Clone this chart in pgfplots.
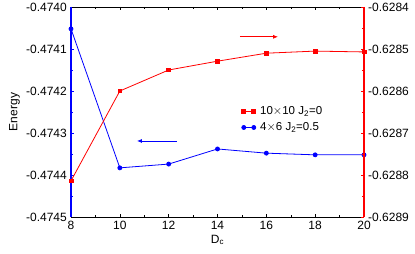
\documentclass[border=0pt]{standalone}
\usepackage{fontspec}
\setmainfont{Liberation Sans}
\usepackage{pgfplots}
\pgfplotsset{compat=1.18}
\usetikzlibrary{calc,arrows.meta}
\begin{document}
\fontsize{12}{14}\selectfont
\begin{tikzpicture}
\pgfplotsset{
  common/.style={
    scale only axis, width=293pt, height=210pt,
    xmin=8, xmax=20,
    tick align=inside,
    major tick length=3.5pt, minor tick length=2pt,
    scaled y ticks=false,
    /pgf/number format/assume math mode=true,
    yticklabel style={/pgf/number format/fixed, /pgf/number format/precision=4, /pgf/number format/fixed zerofill, font=\fontsize{12}{14}\selectfont},
    xticklabel style={font=\fontsize{12}{14}\selectfont},
    minor y tick num=1,
  }
}
\begin{axis}[common, name=ax1,
  ymin=-0.4745, ymax=-0.4740,
  xtick={8,10,12,14,16,18,20}, minor x tick num=1,
  ytick={-0.4745,-0.4744,-0.4743,-0.4742,-0.4741,-0.4740},
  ytick pos=left,
  separate axis lines,
  x axis line style={black, line width=0.8pt},
  y axis line style={blue, line width=1.6pt},
  y tick style={blue, line width=0.5pt},
  x tick style={black, line width=0.5pt},
  xlabel={D\textsubscript{c}}, ylabel={Energy},
  xlabel style={yshift=3pt},
  ylabel style={yshift=-2pt},
  legend style={at={(rel axis cs:0.572,0.545)}, anchor=north west, draw=none, fill=none, font=\fontsize{11.5}{14}\selectfont, row sep=2pt},
  legend cell align=left,
  legend image code/.code={\draw[#1] plot coordinates {(0pt,0pt) (10pt,0pt)}; \path (14pt,0pt);},
]
\addlegendimage{red, line width=0.8pt, mark=square*, mark size=1.9pt}
\addlegendentry{10$\times$10 J\textsubscript{2}=0}
\addplot[blue, line width=0.8pt, mark=*, mark size=2pt] coordinates {
(8,-0.474052) (10,-0.474383) (12,-0.474374) (14,-0.474338) (16,-0.474348) (18,-0.474352) (20,-0.474352)};
\addlegendentry{4$\times$6 J\textsubscript{2}=0.5}
\draw[blue, line width=0.8pt, -{Latex[length=5pt,width=4pt]}] (axis cs:12.34,-0.474319) -- (axis cs:10.70,-0.474319);
\end{axis}
\begin{axis}[common,
  ymin=-0.6289, ymax=-0.6284,
  ytick={-0.6289,-0.6288,-0.6287,-0.6286,-0.6285,-0.6284},
  axis y line*=right, axis x line=none,
  y axis line style={red, line width=1.6pt},
  y tick style={red, line width=0.5pt},
]
\addplot[red, line width=0.8pt, mark=square*, mark size=1.9pt] coordinates {
(8,-0.628814) (10,-0.628600) (12,-0.628550) (14,-0.628529) (16,-0.628510) (18,-0.628505) (20,-0.628507)};
\draw[red, line width=0.8pt, -{Latex[length=5pt,width=4pt]}] (axis cs:14.92,-0.628471) -- (axis cs:16.48,-0.628471);
\end{axis}
\pgfresetboundingbox
\path ($(ax1.south west)+(-71pt,-37pt)$) rectangle ($(ax1.north east)+(51pt,7pt)$);
\end{tikzpicture}
\end{document}
